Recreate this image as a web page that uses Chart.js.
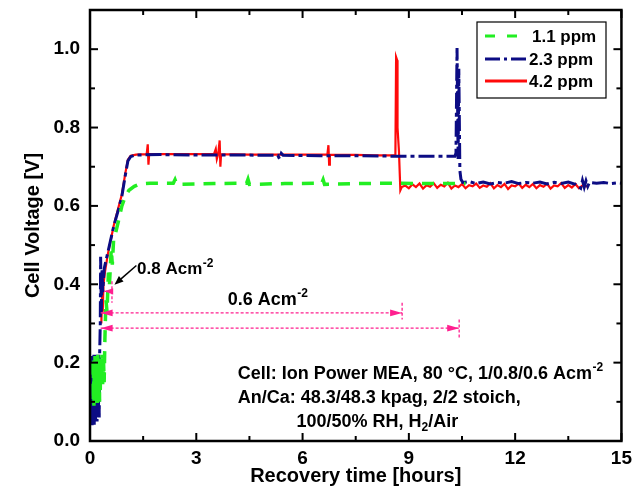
<!DOCTYPE html>
<html><head><meta charset="utf-8">
<script src="https://cdn.jsdelivr.net/npm/chart.js@4.4.0/dist/chart.umd.min.js"></script>
<style>html,body{margin:0;padding:0;background:#fff}canvas{display:block}</style>
</head><body>
<canvas id="c" width="638" height="494"></canvas>
<script>
const FONT = "'Liberation Sans', Arial, Helvetica, sans-serif";
const seriesLabels = ['1.1 ppm', '2.3 ppm', '4.2 ppm'];
const xTicks = [0, 3, 6, 9, 12, 15];
const xMinorTicks = [1.5, 4.5, 7.5, 10.5, 13.5];
const yTicks = [0, 0.2, 0.4, 0.6, 0.8, 1.0];
const yMinorTicks = [0.1, 0.3, 0.5, 0.7, 0.9];

// 1.1 ppm
const greenTime = [0.08,0.09,0.10,0.11,0.12,0.13,0.14,0.15,0.16,0.17,0.18,0.19,0.20,0.21,0.22,0.23,0.24,0.25,0.26,0.27,0.28,0.29,0.30,0.32,0.34,0.36,0.38,0.40,0.42,0.45,0.48,0.52,0.55,0.60,0.63,0.67,0.72,0.80,0.90,1.00,1.10,1.25,1.40,1.70,2.35,2.40,2.45,3.50,4.42,4.46,4.50,5.50,6.54,6.58,6.62,7.50,8.50,9.50,10.60];
const greenVolt = [0.20,0.10,0.21,0.09,0.20,0.11,0.22,0.10,0.19,0.12,0.21,0.13,0.20,0.09,0.22,0.10,0.21,0.12,0.20,0.10,0.21,0.13,0.20,0.16,0.22,0.14,0.21,0.15,0.26,0.36,0.33,0.43,0.40,0.49,0.45,0.52,0.53,0.56,0.60,0.625,0.64,0.65,0.656,0.658,0.658,0.667,0.655,0.657,0.658,0.668,0.655,0.657,0.658,0.667,0.655,0.657,0.658,0.657,0.657];

// 2.3 ppm
const blueTime = [0.03,0.04,0.05,0.06,0.07,0.08,0.09,0.10,0.11,0.12,0.13,0.14,0.15,0.16,0.17,0.18,0.19,0.20,0.21,0.22,0.23,0.24,0.25,0.26,0.27,0.29,0.30,0.32,0.34,0.36,0.40,0.50,0.67,0.80,0.90,1.00,1.07,1.15,1.30,2.00,3.00,4.00,5.30,5.35,5.40,5.45,6.50,7.50,8.50,9.50,10.30,10.33,10.36,10.39,10.41,10.44,10.47,10.52,10.70,10.90,11.10,11.30,11.50,11.70,11.90,12.10,12.30,12.50,12.70,12.90,13.10,13.30,13.50,13.70,13.85,13.90,13.95,14.00,14.05,14.10,14.30,14.50,14.70,14.90,15.00];
const blueVolt = [0.18,0.06,0.21,0.04,0.22,0.05,0.20,0.07,0.22,0.04,0.21,0.06,0.20,0.05,0.22,0.07,0.21,0.05,0.20,0.06,0.19,0.08,0.22,0.06,0.21,0.30,0.47,0.33,0.44,0.38,0.44,0.48,0.548,0.59,0.625,0.68,0.715,0.726,0.730,0.731,0.730,0.730,0.729,0.720,0.734,0.729,0.728,0.728,0.727,0.727,0.727,0.735,1.003,0.72,0.95,0.69,0.668,0.66,0.662,0.657,0.661,0.656,0.660,0.658,0.662,0.657,0.660,0.658,0.661,0.656,0.660,0.657,0.661,0.655,0.645,0.665,0.648,0.664,0.650,0.660,0.658,0.660,0.657,0.659,0.658];

// 4.2 ppm
const redTime = [0.32,0.34,0.36,0.38,0.42,0.50,0.67,0.80,0.90,1.00,1.07,1.15,1.30,1.60,1.63,1.65,1.67,2.50,3.50,3.55,3.58,3.62,3.66,3.68,3.70,4.50,5.50,6.70,6.73,6.75,6.77,7.50,8.00,8.62,8.64,8.67,8.68,8.72,8.76,8.80,8.90,9.00,9.10,9.20,9.30,9.40,9.50,9.60,9.70,9.80,9.90,10.00,10.10,10.20,10.30,10.40,10.50,10.60,10.70,10.80,10.90,11.00,11.10,11.20,11.30,11.40,11.50,11.60,11.70,11.80,11.90,12.00,12.10,12.20,12.30,12.40,12.50,12.60,12.70,12.80,12.90,13.00,13.10,13.20,13.30,13.40,13.50,13.60,13.70,13.80,13.90,14.00,14.05];
const redVolt = [0.30,0.37,0.33,0.40,0.43,0.475,0.55,0.595,0.63,0.685,0.718,0.728,0.731,0.732,0.757,0.705,0.732,0.732,0.732,0.745,0.720,0.733,0.767,0.700,0.732,0.731,0.731,0.731,0.755,0.705,0.731,0.730,0.729,0.729,0.98,0.972,0.80,0.74,0.64,0.648,0.652,0.645,0.655,0.648,0.657,0.644,0.653,0.649,0.658,0.646,0.654,0.650,0.659,0.644,0.652,0.648,0.656,0.645,0.653,0.650,0.657,0.646,0.652,0.649,0.658,0.645,0.653,0.648,0.656,0.643,0.652,0.650,0.657,0.646,0.654,0.648,0.656,0.645,0.653,0.649,0.657,0.644,0.652,0.650,0.658,0.646,0.653,0.647,0.656,0.645,0.652,0.650,0.651];

const toPoints = (ts, vs) => ts.map((t, i) => ({x: t, y: vs[i]}));

const PINK = '#ff1f8f';

function arrowHead(ctx, tx, ty, dx, dy, len, half) {
  const n = Math.hypot(dx, dy); dx /= n; dy /= n;
  const bx = tx - dx * len, by = ty - dy * len;
  ctx.beginPath();
  ctx.moveTo(tx, ty);
  ctx.lineTo(bx - dy * half, by + dx * half);
  ctx.lineTo(bx + dy * half, by - dx * half);
  ctx.closePath();
  ctx.fill();
}

const framePlugin = {
  id: 'frame',
  afterDatasetsDraw(chart) {
    const {ctx, chartArea: a, scales: {x, y}} = chart;
    ctx.save();
    ctx.strokeStyle = '#000';
    ctx.lineWidth = 2.5;
    ctx.strokeRect(a.left, a.top, a.right - a.left, a.bottom - a.top);
    ctx.lineWidth = 2;
    const seg = (x1, y1, x2, y2) => { ctx.beginPath(); ctx.moveTo(x1, y1); ctx.lineTo(x2, y2); ctx.stroke(); };
    xTicks.forEach(v => { const p = x.getPixelForValue(v); seg(p, a.bottom, p, a.bottom - 8); seg(p, a.top, p, a.top + 8); });
    xMinorTicks.forEach(v => { const p = x.getPixelForValue(v); seg(p, a.bottom, p, a.bottom - 5); seg(p, a.top, p, a.top + 5); });
    yTicks.forEach(v => { const p = y.getPixelForValue(v); seg(a.left, p, a.left + 8, p); seg(a.right, p, a.right - 8, p); });
    yMinorTicks.forEach(v => { const p = y.getPixelForValue(v); seg(a.left, p, a.left + 5, p); seg(a.right, p, a.right - 5, p); });
    ctx.restore();
  }
};

function supText(ctx, x, y, main, sup, size) {
  ctx.font = 'bold ' + size + 'px ' + FONT;
  ctx.fillText(main, x, y);
  const w = ctx.measureText(main).width;
  ctx.font = 'bold ' + Math.round(size * 0.68) + 'px ' + FONT;
  ctx.fillText(sup, x + w + 0.5, y - size * 0.42);
}

const annotPlugin = {
  id: 'annot',
  afterDatasetsDraw(chart) {
    const {ctx, scales: {x, y}} = chart;
    const X = v => x.getPixelForValue(v), Y = v => y.getPixelForValue(v);
    ctx.save();
    // pink duration markers
    ctx.strokeStyle = PINK; ctx.fillStyle = PINK; ctx.lineWidth = 1.3;
    ctx.setLineDash([3, 2]);
    const hline = (t1, t2, v) => { ctx.beginPath(); ctx.moveTo(X(t1), Y(v)); ctx.lineTo(X(t2), Y(v)); ctx.stroke(); };
    const vline = (t, v1, v2) => { ctx.beginPath(); ctx.moveTo(X(t), Y(v1)); ctx.lineTo(X(t), Y(v2)); ctx.stroke(); };
    hline(0.40, 0.62, 0.382); vline(0.62, 0.408, 0.353);
    hline(0.30, 8.81, 0.327); vline(8.81, 0.353, 0.310);
    hline(0.30, 10.42, 0.288); vline(10.42, 0.310, 0.259);
    ctx.setLineDash([]);
    arrowHead(ctx, X(0.40), Y(0.382), -1, 0, 9, 3.2);
    arrowHead(ctx, X(0.30), Y(0.327), -1, 0, 12, 3.4);
    arrowHead(ctx, X(8.81), Y(0.327), 1, 0, 12, 3.4);
    arrowHead(ctx, X(0.30), Y(0.288), -1, 0, 12, 3.4);
    arrowHead(ctx, X(10.42), Y(0.288), 1, 0, 12, 3.4);
    // black pointer arrow for 0.8 A/cm2
    ctx.strokeStyle = '#000'; ctx.fillStyle = '#000'; ctx.lineWidth = 1.5;
    const ax1 = X(1.31), ay1 = Y(0.448), ax2 = X(0.69), ay2 = Y(0.399);
    ctx.beginPath(); ctx.moveTo(ax1, ay1); ctx.lineTo(ax2 + (ax1 - ax2) * 0.3, ay2 + (ay1 - ay2) * 0.3); ctx.stroke();
    arrowHead(ctx, ax2, ay2, ax2 - ax1, ay2 - ay1, 9, 3.5);
    // labels
    ctx.fillStyle = '#000';
    ctx.textBaseline = 'alphabetic'; ctx.textAlign = 'left';
    supText(ctx, X(1.33), Y(0.425), '0.8 Acm', '-2', 17);
    supText(ctx, X(3.89), Y(0.348), '0.6 Acm', '-2', 18);
    // conditions text block
    supText(ctx, X(4.17), Y(0.159), 'Cell: Ion Power MEA, 80 \u00B0C, 1/0.8/0.6 Acm', '-2', 18);
    ctx.font = 'bold 18px ' + FONT;
    ctx.fillText('An/Ca: 48.3/48.3 kpag, 2/2 stoich,', X(4.17), Y(0.098));
    const l3x = X(5.83), l3y = Y(0.037);
    const p1 = '100/50% RH, H';
    ctx.fillText(p1, l3x, l3y);
    const w1 = ctx.measureText(p1).width;
    ctx.font = 'bold 12px ' + FONT;
    ctx.fillText('2', l3x + w1, l3y + 4);
    const w2 = ctx.measureText('2').width;
    ctx.font = 'bold 18px ' + FONT;
    ctx.fillText('/Air', l3x + w1 + w2, l3y);
    ctx.restore();
  }
};

const legendPlugin = {
  id: 'boxLegend',
  afterDraw(chart) {
    const {ctx} = chart;
    const bx = 477, by = 22, bw = 129, bh = 76;
    ctx.save();
    ctx.fillStyle = '#fff'; ctx.fillRect(bx, by, bw, bh);
    ctx.strokeStyle = '#000'; ctx.lineWidth = 1.2; ctx.strokeRect(bx, by, bw, bh);
    const rows = [36, 59, 81];
    const dashes = [[10, 12], [15, 4, 3, 4], []];
    chart.data.datasets.forEach((ds, i) => {
      ctx.strokeStyle = ds.borderColor; ctx.lineWidth = 3;
      ctx.setLineDash(dashes[i]);
      ctx.beginPath(); ctx.moveTo(485, rows[i]); ctx.lineTo(527, rows[i]); ctx.stroke();
      ctx.setLineDash([]);
      ctx.fillStyle = '#000';
      ctx.font = 'bold 17px ' + FONT;
      ctx.textBaseline = 'middle'; ctx.textAlign = 'left';
      ctx.fillText(ds.label, i === 0 ? 532 : 529, rows[i] + 1);
    });
    ctx.restore();
  }
};

const tickFont = {family: FONT, size: 19, weight: 'bold'};
const titleFont = {family: FONT, size: 20, weight: 'bold'};

new Chart(document.getElementById('c').getContext('2d'), {
  type: 'line',
  data: {
    datasets: [
      {label: seriesLabels[0], data: toPoints(greenTime, greenVolt), borderColor: '#22ee22', borderWidth: 3.5, borderDash: [12, 9], pointRadius: 0, tension: 0, fill: false},
      {label: seriesLabels[1], data: toPoints(blueTime, blueVolt), borderColor: '#0c0c84', borderWidth: 3, borderDash: [16, 4, 4, 4], pointRadius: 0, tension: 0, fill: false},
      {label: seriesLabels[2], data: toPoints(redTime, redVolt), borderColor: '#ff0a0a', borderWidth: 2.2, pointRadius: 0, tension: 0, fill: false}
    ]
  },
  options: {
    responsive: false, animation: false, devicePixelRatio: 1, events: [],
    layout: {padding: {top: 0, right: 15, left: 0, bottom: 0}},
    plugins: {legend: {display: false}, tooltip: {enabled: false}},
    scales: {
      x: {
        type: 'linear', min: 0, max: 15,
        grid: {display: false, drawTicks: false}, border: {display: false},
        afterBuildTicks: s => { s.ticks = xTicks.map(v => ({value: v})); },
        afterFit: s => { s.height = 53; },
        ticks: {font: tickFont, color: '#000', padding: 6, maxRotation: 0, autoSkip: false, callback: v => String(v)},
        title: {display: true, text: 'Recovery time [hours]', font: titleFont, color: '#000', padding: {top: 0, bottom: 6}}
      },
      y: {
        type: 'linear', min: 0, max: 1.1,
        grid: {display: false, drawTicks: false}, border: {display: false},
        afterBuildTicks: s => { s.ticks = yTicks.map(v => ({value: v})); },
        afterFit: s => { s.width = 90; s.paddingTop = 10; s.paddingBottom = 0; },
        ticks: {font: tickFont, color: '#000', padding: 10, autoSkip: false, callback: v => v.toFixed(1)},
        title: {display: true, text: 'Cell Voltage [V]', font: titleFont, color: '#000', padding: {top: 21, bottom: 0}}
      }
    }
  },
  plugins: [framePlugin, annotPlugin, legendPlugin]
});
</script>
</body></html>
